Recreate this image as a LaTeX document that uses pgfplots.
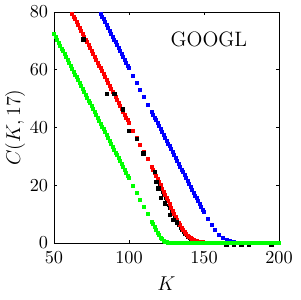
\documentclass[border=0pt]{standalone}
\usepackage{pgfplots}
\pgfplotsset{compat=1.18}
\definecolor{mgreen}{RGB}{0,255,0}
\definecolor{mred}{RGB}{255,0,0}
\definecolor{mblue}{RGB}{0,0,255}
\begin{document}
\begin{tikzpicture}
\begin{axis}[
  scale only axis, width=135pt, height=138.6pt,
  xmin=50, xmax=200, ymin=0, ymax=80,
  xtick={50,100,150,200}, ytick={0,20,40,60,80},
  tick align=inside, major tick length=1.6pt,
  clip=false,
  axis line style={line width=0.5pt},
  every tick/.style={black, line width=0.4pt},
  tick label style={font=\fontsize{11}{13}\selectfont},
  xticklabel style={yshift=-2pt},
  label style={font=\fontsize{12.5}{15}\selectfont},
  xlabel={$K$}, ylabel={$C(K,17)$},
  xlabel style={at={(axis description cs:0.5,-0.1775)}, anchor=center},
  ylabel style={at={(axis description cs:-0.173,0.5)}, anchor=center},
]
% black dense
\addplot[only marks, mark=square*, mark size=0.6pt, color=black] table {
120 19.8
121 18.7
122 17.6
123 16.5
124 15.4
125 14.3
126 13.2
127 12.1
128 11.0
129 9.95
130 8.9
131 7.9
132 6.95
133 6.05
134 5.2
135 4.4
136 3.7
137 3.05
138 2.5
139 2.0
140 1.6
141 1.25
142 0.98
143 0.76
144 0.6
145 0.48
146 0.4
147 0.34
148 0.3
150 0.26
152 0.22
154 0.19
156 0.16
158 0.13
160 0.1
162 0.07
164 0.05
};
% blue
\addplot[only marks, mark=square*, mark size=0.9pt, color=mblue] table {
81 79.5
82 78.5
83 77.5
84 76.5
85 75.5
86 74.5
87 73.5
88 72.5
89 71.5
90 70.5
91 69.5
92 68.5
93 67.5
94 66.5
95 65.5
96 64.5
97 63.5
98 62.5
99 61.5
100 60.5
102.5 58.0
105 55.5
107.5 53.0
110 50.5
112.5 48.0
115 45.5
116 44.5
117 43.5
118 42.5
119 41.5
120 40.5
121 39.5
122 38.5
123 37.5
124 36.5
125 35.5
126 34.5
127 33.5
128 32.5
129 31.5
130 30.5
131 29.5
132 28.5
133 27.5
134 26.5
135 25.5
136 24.5
137 23.5
138 22.5
139 21.5
140 20.5
141 19.5
142 18.5
143 17.5
144 16.5
145 15.5
146 14.5
147 13.5
148 12.55
149 11.65
150 10.8
152.5 8.4
155 6.3
157.5 4.45
160 2.95
162.5 1.8
165 1.05
167.5 0.6
170 0.32
172.5 0.17
175 0.08
177.5 0.03
180 0
182.5 0
185 0
187.5 0
190 0
192.5 0
195 0
197.5 0
200 0
};
% red
\addplot[only marks, mark=square*, mark size=0.9pt, color=mred] table {
62 79.5
63 78.5
64 77.5
65 76.5
66 75.5
67 74.5
68 73.5
69 72.5
70 71.5
71 70.5
72 69.5
73 68.5
74 67.5
75 66.5
76 65.5
77 64.5
78 63.5
79 62.5
80 61.5
81 60.5
82 59.5
83 58.5
84 57.5
85 56.5
86 55.5
87 54.5
88 53.5
89 52.5
90 51.5
91 50.5
92 49.5
93 48.5
94 47.5
95 46.5
96 45.5
97 44.5
98 43.5
99 42.5
100 41.5
102.5 39.0
105 36.5
107.5 34.0
110 31.5
112.5 29.0
115 26.5
116 25.45
117 24.4
118 23.3
119 22.2
120 21.1
121 20.0
122 18.9
123 17.8
124 16.7
125 15.6
126 14.5
127 13.4
128 12.3
129 11.2
130 10.1
131 9.05
132 8.05
133 7.1
134 6.2
135 5.35
136 4.55
137 3.85
138 3.2
139 2.65
140 2.15
141 1.75
142 1.4
143 1.1
144 0.85
145 0.68
146 0.55
147 0.44
148 0.35
149 0.27
150 0.2
152.5 0.09
155 0.04
157.5 0.015
160 0
162.5 0
165 0
167.5 0
170 0
172.5 0
175 0
};
% black market
\addplot[only marks, mark=square*, mark size=1.05pt, color=black] table {
69.5 70.5
85.1 51.6
90.2 51.6
95.8 46.3
100 38.9
105.1 36.0
109.5 31.1
117.3 24.7
118.2 21.2
119.5 18.9
121.3 15.7
124 13.7
127.3 9.7
129.5 8.0
131.8 7.2
165 -0.4
170 -0.4
175 -0.4
180 -0.4
195 -0.4
};
% green
\addplot[only marks, mark=square*, mark size=0.9pt, color=mgreen] table {
50 72.4
51 71.4
52 70.4
53 69.4
54 68.4
55 67.4
56 66.4
57 65.4
58 64.4
59 63.4
60 62.4
61 61.4
62 60.4
63 59.4
64 58.4
65 57.4
66 56.4
67 55.4
68 54.4
69 53.4
70 52.4
71 51.4
72 50.4
73 49.4
74 48.4
75 47.4
76 46.4
77 45.4
78 44.4
79 43.4
80 42.4
81 41.4
82 40.4
83 39.4
84 38.4
85 37.4
86 36.4
87 35.4
88 34.4
89 33.4
90 32.4
91 31.4
92 30.4
93 29.4
94 28.4
95 27.4
96 26.4
97 25.4
98 24.4
99 23.4
100 22.4
102.5 19.9
105 17.4
107.5 14.9
110 12.4
112.5 9.95
115 7.5
116 6.5
117 5.5
118 4.55
119 3.6
120 2.7
121 1.95
122 1.3
123 0.82
124 0.5
125 0.3
126 0.17
127 0.09
128 0.04
129 0.02
130 0
131 0
132 0
133 0
134 0
135 0
136 0
137 0
138 0
139 0
140 0
141 0
142 0
143 0
144 0
145 0
146 0
147 0
148 0
149 0
150 0
152.5 0
155 0
157.5 0
160 0
162.5 0
165 0
167.5 0
170 0
172.5 0
175 0
177.5 0
180 0
182.5 0
185 0
187.5 0
190 0
192.5 0
195 0
197.5 0
200 0
};
\node[font=\fontsize{12.5}{15}\selectfont] at (axis cs:153.3,70.5) {GOOGL};
\end{axis}
\pgfresetboundingbox
\path[use as bounding box] ([shift={(-32.4pt,-34.2pt)}]current axis.south west) rectangle ([shift={(12.6pt,7.2pt)}]current axis.north east);
\end{tikzpicture}
\end{document}
